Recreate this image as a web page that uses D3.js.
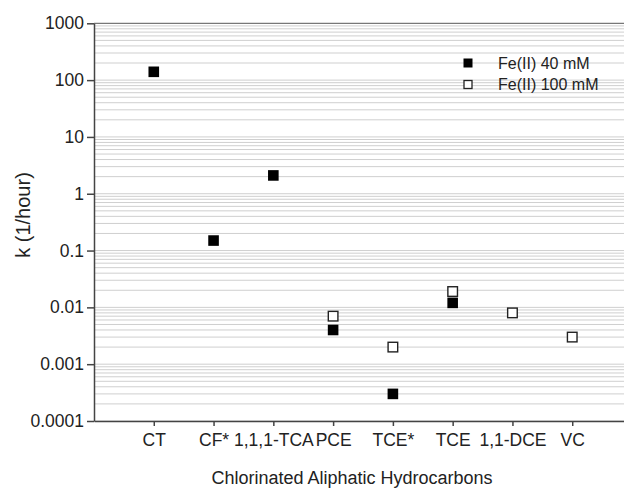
<!DOCTYPE html>
<html>
<head>
<meta charset="utf-8">
<script src="https://cdn.jsdelivr.net/npm/d3@7"></script>
<style>
  body { margin: 0; background: #fff; }
  svg { display: block; font-family: "Liberation Sans", Arial, sans-serif; }
  .axis text { fill: #222; font-size: 17.5px; }
  .axis path, .axis line { stroke: #444; stroke-width: 1.5; }
</style>
</head>
<body>
<div id="chart"></div>
<script>
// compounds on the x axis
const categories = ["CT", "CF*", "1,1,1-TCA", "PCE", "TCE*", "TCE", "1,1-DCE", "VC"];
// rate constants k (1/hour), null = not measured
const fe40 = [140, 0.15, 2.1, 0.004, 0.0003, 0.012, null, null];
const fe100 = [null, null, null, 0.007, 0.002, 0.019, 0.008, 0.003];
const yTicks = [0.0001, 0.001, 0.01, 0.1, 1, 10, 100, 1000];
const seriesNames = ["Fe(II) 40 mM", "Fe(II) 100 mM"];

const width = 624;
const height = 489;
const plotLeft = 94, plotTop = 23.3, plotBottom = 421;

const svg = d3.select("#chart")
    .append("svg")
    .attr("width", width)
    .attr("height", height);

const x = d3.scaleLinear().domain([0, categories.length + 1]).range([plotLeft, 632]);
const y = d3.scaleLog().domain([1e-4, 1e3]).range([plotBottom, plotTop]);

//minor grid, 1..9 per decade
const gridVals = [];
for (let k = -4; k < 3; k++) {
    for (let m = 1; m <= 9; m++) gridVals.push(m * Math.pow(10, k));
}
svg.append("g")
    .selectAll("line")
    .data(gridVals)
    .join("line")
    .attr("x1", plotLeft)
    .attr("x2", width)
    .attr("y1", (d) => y(d))
    .attr("y2", (d) => y(d))
    .attr("stroke", "#cfcfcf")
    .attr("stroke-width", 1);

//top frame line
svg.append("line")
    .attr("x1", plotLeft).attr("x2", width)
    .attr("y1", y(1000)).attr("y2", y(1000))
    .attr("stroke", "#777").attr("stroke-width", 1.2);

//axes
svg.append("g")
    .attr("class", "axis")
    .attr("transform", `translate(${plotLeft},0)`)
    .call(d3.axisLeft(y).tickValues(yTicks).tickFormat((d) => String(+d.toFixed(4)))
        .tickSize(7).tickSizeOuter(0).tickPadding(3));

svg.append("g")
    .attr("class", "axis")
    .attr("transform", `translate(0,${plotBottom})`)
    .call(d3.axisBottom(x).tickValues(d3.range(1, categories.length + 1))
        .tickFormat((i) => categories[i - 1])
        .tickSize(5).tickSizeOuter(0).tickPadding(8));

svg.selectAll(".axis .domain").attr("stroke-width", 1.8);

//axis titles
svg.append("text")
    .attr("x", 352)
    .attr("y", 484)
    .attr("text-anchor", "middle")
    .attr("font-size", 18)
    .attr("fill", "#222")
    .text("Chlorinated Aliphatic Hydrocarbons");

svg.append("text")
    .attr("transform", "translate(30,215) rotate(-90)")
    .attr("text-anchor", "middle")
    .attr("font-size", 20)
    .attr("fill", "#222")
    .text("k (1/hour)");

//points
const pts40 = fe40.map((v, i) => ({ i: i + 1, v })).filter((d) => d.v != null);
const pts100 = fe100.map((v, i) => ({ i: i + 1, v })).filter((d) => d.v != null);

svg.append("g")
    .selectAll("rect")
    .data(pts100)
    .join("rect")
    .attr("x", (d) => x(d.i) - 4.8)
    .attr("y", (d) => y(d.v) - 4.8)
    .attr("width", 9.6)
    .attr("height", 9.6)
    .attr("fill", "#fff")
    .attr("stroke", "#222")
    .attr("stroke-width", 1.4);

svg.append("g")
    .selectAll("rect")
    .data(pts40)
    .join("rect")
    .attr("x", (d) => x(d.i) - 5.3)
    .attr("y", (d) => y(d.v) - 5.3)
    .attr("width", 10.6)
    .attr("height", 10.6)
    .attr("fill", "#000");

//legend
const legend = svg.append("g").attr("transform", "translate(468,63)");
seriesNames.forEach((name, i) => {
    const g = legend.append("g").attr("transform", `translate(0,${i * 21.5})`);
    if (i === 0) {
        g.append("rect").attr("x", -4.5).attr("y", -4.5).attr("width", 9).attr("height", 9).attr("fill", "#000");
    } else {
        g.append("rect").attr("x", -4).attr("y", -4).attr("width", 8).attr("height", 8)
            .attr("fill", "#fff").attr("stroke", "#222").attr("stroke-width", 1.3);
    }
    g.append("text")
        .attr("x", 30)
        .attr("dy", "0.36em")
        .attr("font-size", 16)
        .attr("fill", "#222")
        .text(name);
});
</script>
</body>
</html>
